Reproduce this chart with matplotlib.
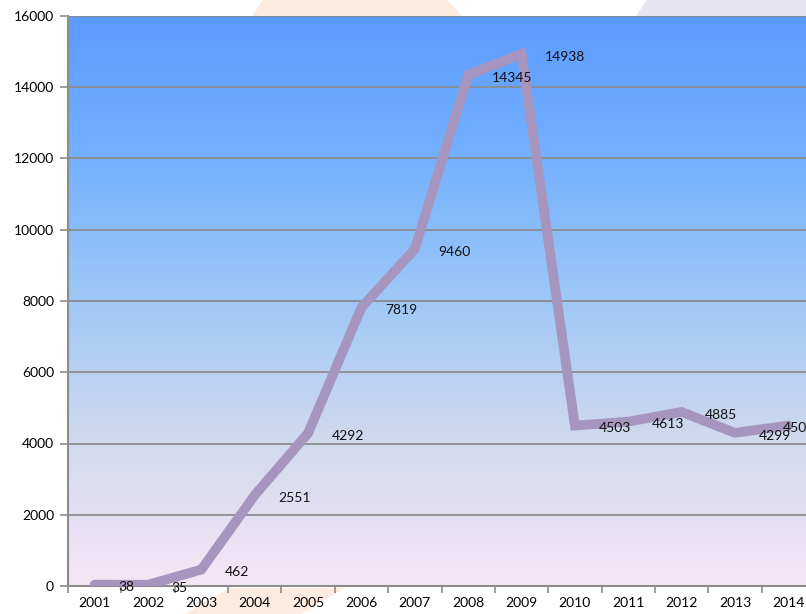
import numpy as np
import matplotlib.pyplot as plt
from matplotlib.colors import LinearSegmentedColormap
from matplotlib.patches import Polygon

years = ["2001", "2002", "2003", "2004", "2005", "2006", "2007",
         "2008", "2009", "2010", "2011", "2012", "2013", "2014"]
values = [38, 35, 462, 2551, 4292, 7819, 9460,
          14345, 14938, 4503, 4613, 4885, 4299, 4505]
y_ticks = [0, 2000, 4000, 6000, 8000, 10000, 12000, 14000, 16000]

plt.rcParams["font.family"] = ["Lato", "DejaVu Sans"]

fig = plt.figure(figsize=(8.06, 6.14), dpi=100)

# faint background shapes behind the chart
def shape(pts, color):
    fig.patches.append(Polygon([[px / 806, 1 - py / 614] for px, py in pts],
                               closed=True, transform=fig.transFigure,
                               facecolor=color, edgecolor="none", zorder=-5))

shape([(263, 0), (447, 0), (462, 16), (252, 16)], "#FDEBE0")
shape([(647, 0), (806, 0), (806, 16), (636, 16)], "#E6E4EF")
shape([(185, 614), (300, 614), (345, 588), (230, 588)], "#FDEBE0")

ax = fig.add_axes([68 / 806, 28 / 614, (815 - 68) / 806, (586 - 16) / 614])
ax.set_zorder(1)
ax.patch.set_alpha(0)

x = np.arange(len(years))
ax.set_xlim(-0.5, len(years) - 0.5)
ax.set_ylim(0, 16000)

# gradient plot area
cmap = LinearSegmentedColormap.from_list(
    "bg", [(0.0, "#F6E6F6"), (0.25, "#D2D9EE"), (0.5, "#9FC8F6"),
           (0.75, "#74B1FF"), (1.0, "#5B9BFF")])
grad = np.linspace(0, 1, 256).reshape(-1, 1)
ax.imshow(grad, cmap=cmap, aspect="auto", origin="lower",
          extent=(-0.5, len(years) - 0.5, 0, 16000), zorder=0)

for t in y_ticks[1:]:
    ax.axhline(t, color="#8C8C8C", lw=1.3, zorder=1)

ax.plot(x, values, color="#A696BF", lw=7, solid_joinstyle="miter",
        solid_capstyle="round", zorder=3)

for xi, v in zip(x, values):
    # last label is pushed back left (it runs off the edge)
    dx = 17 if xi < len(years) - 1 else -4
    ax.annotate(str(v), (xi, v), xytext=(dx, -2), textcoords="offset points",
                ha="left", va="center", fontsize=10, color="#111111", zorder=4)

ax.set_xticks(x)
ax.set_xticklabels(years)
ax.set_xticks(np.arange(len(years) + 1) - 0.5, minor=True)
ax.tick_params(axis="x", which="major", length=0, pad=8, labelsize=10)
ax.tick_params(axis="x", which="minor", length=5, color="#8C8C8C", width=1.2)
ax.set_yticks(y_ticks)
ax.tick_params(axis="y", length=6, color="#8C8C8C", width=1.2, labelsize=10, pad=4)

for s in ["top", "right"]:
    ax.spines[s].set_visible(False)
for s in ["left", "bottom"]:
    ax.spines[s].set_color("#8C8C8C")
    ax.spines[s].set_linewidth(1.5)

fig.savefig("out.png", dpi=100)
